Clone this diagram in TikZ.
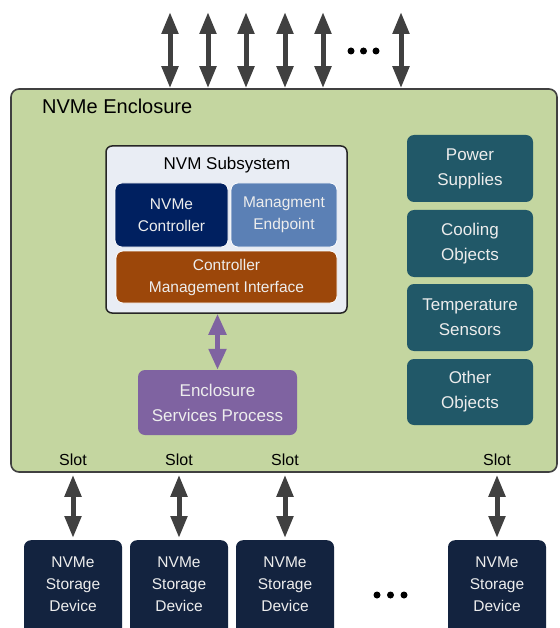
\documentclass[tikz,border=0pt]{standalone}
\usepackage{fontspec}
\setmainfont{Liberation Sans}
\usetikzlibrary{arrows.meta}
\definecolor{encfill}{RGB}{196,214,160}
\definecolor{encdraw}{RGB}{64,64,64}
\definecolor{subfill}{RGB}{233,237,244}
\definecolor{ctrlfill}{RGB}{0,32,96}
\definecolor{mgmtfill}{RGB}{91,128,181}
\definecolor{cmifill}{RGB}{156,71,10}
\definecolor{espfill}{RGB}{127,99,161}
\definecolor{objfill}{RGB}{33,88,104}
\definecolor{devfill}{RGB}{19,35,63}
\definecolor{arrowgray}{RGB}{64,64,64}
\tikzset{
  box/.style={rectangle, rounded corners=7pt, text=white!93!black, align=center, inner sep=0pt},
  inbox/.style={box, draw=white, line width=0.8pt, font=\fontsize{15.5}{22}\selectfont},
  objbox/.style={box, fill=objfill, minimum width=126pt, font=\fontsize{17}{25}\selectfont},
  devbox/.style={box, fill=devfill, minimum width=98pt, minimum height=110pt, anchor=north, font=\fontsize{15.5}{22}\selectfont},
  slotlbl/.style={font=\fontsize{16}{18}\selectfont, inner sep=0pt},
  dbl/.style={line width=5pt, draw=arrowgray, {Triangle[width=16pt,length=22pt]}-{Triangle[width=16pt,length=22pt]}},
  dotfill/.style={fill=black}
}
\begin{document}
\begin{tikzpicture}[x=1pt,y=-1pt]
\clip (0,0) rectangle (559,628);
\fill[white] (0,0) rectangle (559,628);

% enclosure
\node[rectangle, rounded corners=8pt, fill=encfill, draw=encdraw, line width=1.6pt,
      minimum width=546pt, minimum height=383pt, inner sep=0pt] (enc) at (284,280.5) {};
\node[anchor=west, font=\fontsize{20}{22}\selectfont, inner sep=0pt] (enctitle) at (42,106) {NVMe Enclosure};

% top connectors
\foreach \i/\x in {1/170,2/208,3/246,4/285,5/323,6/401}{
  \coordinate (t\i) at (\x,12);
  \draw[dbl] (t\i) -- (t\i |- enc.north);
}
\foreach \x in {351,363.5,376}{ \fill[dotfill] (\x,51) circle (3.5pt); }

% NVM subsystem
\node[rectangle, rounded corners=6pt, fill=subfill, draw=black!85, line width=1.5pt,
      minimum width=241pt, minimum height=167pt, inner sep=0pt] (sub) at (226.5,229.5) {};
\node[font=\fontsize{17}{20}\selectfont, inner sep=0pt] (subtitle) at (227,165) {NVM Subsystem};
\node[inbox, fill=ctrlfill, minimum width=113pt, minimum height=64pt] (ctrl) at (171.5,215) {NVMe\\Controller};
\node[inbox, fill=mgmtfill, minimum width=106pt, minimum height=64pt] (mgmt) at (284,215) {Managment\\Endpoint};
\node[inbox, fill=cmifill, minimum width=221pt, minimum height=52pt] (cmi) at (226.5,277) {Controller\\Management Interface};

% enclosure services process
\node[box, fill=espfill, minimum width=159pt, minimum height=65pt, font=\fontsize{17}{25}\selectfont] (esp) at (217.5,402.5) {Enclosure\\Services Process};
\draw[line width=5pt, draw=espfill, {Triangle[width=17pt,length=21pt]}-{Triangle[width=17pt,length=21pt]}]
  (esp.north) -- (esp.north |- sub.south);

% objects
\node[objbox, minimum height=67pt] (psu) at (470,168.5) {Power\\Supplies};
\node[objbox, minimum height=67pt] (cool) at (470,243.5) {Cooling\\Objects};
\node[objbox, minimum height=67pt] (temp) at (470,317.5) {Temperature\\Sensors};
\node[objbox, minimum height=66pt] (other) at (470,392) {Other\\Objects};

% slots and devices
\foreach \i/\x in {1/73,2/179,3/285,4/497}{
  \node[slotlbl] (slot\i) at (\x,460) {Slot};
  \node[devbox] (dev\i) at (\x,540) {NVMe\\Storage\\Device\\\mbox{}};
  \draw[dbl, shorten <=2pt, shorten >=2pt] (dev\i.north |- enc.south) -- (dev\i.north);
}
\foreach \x in {377,390.5,404}{ \fill[dotfill] (\x,595) circle (3.5pt); }
\end{tikzpicture}
\end{document}
